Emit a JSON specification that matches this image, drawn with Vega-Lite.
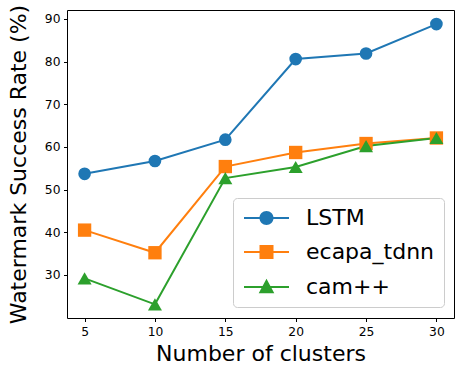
{
  "$schema": "https://vega.github.io/schema/vega-lite/v6.json",
  "width": 387,
  "height": 308,
  "autosize": {"type": "none"},
  "padding": {"left": 67, "top": 10, "right": 9, "bottom": 62},
  "background": "white",
  "config": {
    "font": "DejaVu Sans",
    "view": {"stroke": "black", "strokeWidth": 1},
    "axis": {
      "domain": false,
      "grid": false,
      "tickColor": "black",
      "tickSize": 3.5,
      "tickWidth": 1,
      "labelColor": "black",
      "labelFont": "DejaVu Sans",
      "labelFontSize": 12.3,
      "labelPadding": 3.5,
      "titleColor": "black",
      "titleFont": "DejaVu Sans",
      "titleFontSize": 22,
      "titleFontWeight": "normal"
    },
    "legend": {
      "symbolBaseFillColor": {"expr": "scale('color', datum.value)"}
    }
  },
  "data": {
    "values": [
      {"series": "LSTM", "clusters": 5, "rate": 53.7},
      {"series": "LSTM", "clusters": 10, "rate": 56.7},
      {"series": "LSTM", "clusters": 15, "rate": 61.7},
      {"series": "LSTM", "clusters": 20, "rate": 80.6},
      {"series": "LSTM", "clusters": 25, "rate": 81.9},
      {"series": "LSTM", "clusters": 30, "rate": 88.8},
      {"series": "ecapa_tdnn", "clusters": 5, "rate": 40.5},
      {"series": "ecapa_tdnn", "clusters": 10, "rate": 35.2},
      {"series": "ecapa_tdnn", "clusters": 15, "rate": 55.4},
      {"series": "ecapa_tdnn", "clusters": 20, "rate": 58.7},
      {"series": "ecapa_tdnn", "clusters": 25, "rate": 60.8},
      {"series": "ecapa_tdnn", "clusters": 30, "rate": 62.1},
      {"series": "cam++", "clusters": 5, "rate": 29.2},
      {"series": "cam++", "clusters": 10, "rate": 23.1},
      {"series": "cam++", "clusters": 15, "rate": 52.7},
      {"series": "cam++", "clusters": 20, "rate": 55.3},
      {"series": "cam++", "clusters": 25, "rate": 60.2},
      {"series": "cam++", "clusters": 30, "rate": 62.1}
    ]
  },
  "encoding": {
    "x": {
      "field": "clusters",
      "type": "quantitative",
      "scale": {"domain": [3.75, 31.25], "nice": false, "zero": false},
      "axis": {"values": [5, 10, 15, 20, 25, 30], "title": "Number of clusters", "titlePadding": 6}
    },
    "y": {
      "field": "rate",
      "type": "quantitative",
      "scale": {"domain": [19.9, 92.1], "nice": false, "zero": false},
      "axis": {"values": [30, 40, 50, 60, 70, 80, 90], "title": "Watermark Success Rate (%)", "titlePadding": 14}
    },
    "color": {
      "field": "series",
      "type": "nominal",
      "scale": {"domain": ["LSTM", "ecapa_tdnn", "cam++"], "range": ["#1f77b4", "#ff7f0e", "#2ca02c"]},
      "legend": null
    }
  },
  "layer": [
    {"mark": {"type": "line", "strokeWidth": 2}},
    {
      "mark": {"type": "point", "filled": true, "opacity": 1},
      "encoding": {
        "shape": {
          "field": "series",
          "type": "nominal",
          "scale": {"domain": ["LSTM", "ecapa_tdnn", "cam++"], "range": ["circle", "square", "triangle-up"]},
          "legend": null
        },
        "size": {
          "field": "series",
          "type": "nominal",
          "scale": {"domain": ["LSTM", "ecapa_tdnn", "cam++"], "range": [160, 196, 210]},
          "legend": null
        }
      }
    },
    {
      "transform": [{"filter": "false"}],
      "mark": {"type": "point", "filled": true, "opacity": 1},
      "encoding": {
        "shape": {
          "field": "series",
          "type": "nominal",
          "scale": {
            "domain": ["LSTM", "ecapa_tdnn", "cam++"],
            "range": [
              "M-2.25,-0.1H2.25V0.1H-2.25Z M0.7,0A0.7,0.7 0 1,1 -0.7,0A0.7,0.7 0 1,1 0.7,0Z",
              "M-2.25,-0.1H2.25V0.1H-2.25Z M-0.7,-0.7H0.7V0.7H-0.7Z",
              "M-2.25,-0.1H2.25V0.1H-2.25Z M0,-0.82L0.78,0.62L-0.78,0.62Z"
            ]
          },
          "legend": {
            "orient": "none",
            "legendX": 166,
            "legendY": 188,
            "title": null,
            "labelFontSize": 22,
            "labelFont": "DejaVu Sans",
            "labelColor": "black",
            "symbolSize": 400,
            "symbolOffset": 13.5,
            "labelOffset": 28.5,
            "rowPadding": 12,
            "padding": 9,
            "fillColor": "rgba(255,255,255,0.8)",
            "strokeColor": "#cccccc",
            "cornerRadius": 4
          }
        }
      }
    }
  ],
  "resolve": {"scale": {"shape": "independent"}}
}
